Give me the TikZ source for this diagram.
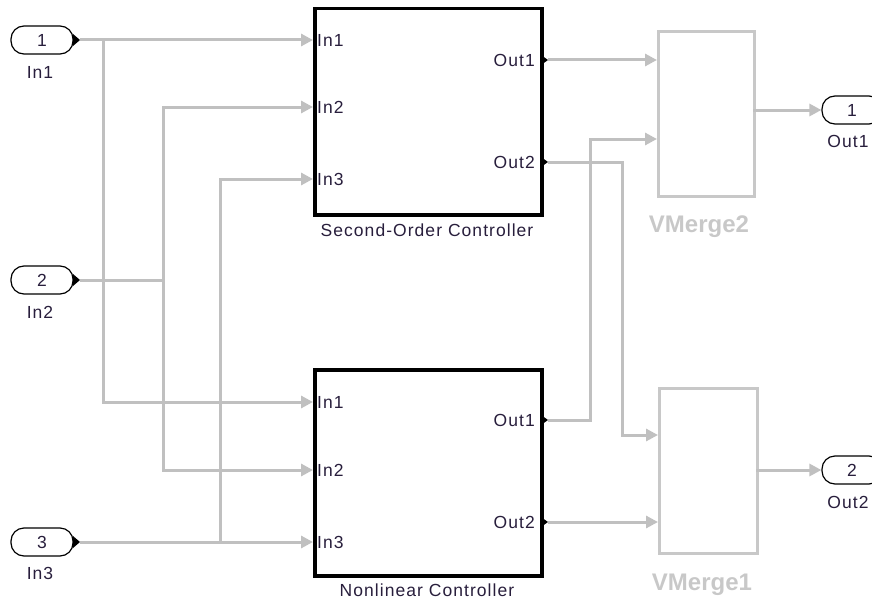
\documentclass[tikz,border=0pt]{standalone}
\usepackage{fontspec}
\setmainfont{Liberation Sans}
\newfontfamily\simfont{Liberation Sans}[LetterSpace=6.0]
\newfontfamily\mergefam{Liberation Sans}
\usetikzlibrary{arrows.meta}
\definecolor{wiregray}{RGB}{192,192,192}
\definecolor{mergegray}{RGB}{200,200,200}
\definecolor{txtdark}{RGB}{40,30,60}
\newcommand\lblfont{\simfont\fontsize{17.5}{19}\selectfont\color{txtdark}}
\newcommand\mergefont{\mergefam\bfseries\fontsize{24}{26}\selectfont\color{mergegray}}
\begin{document}
\begin{tikzpicture}[x=1pt,y=-1pt,
  wire/.style={draw=wiregray,line width=3pt},
  arr/.style={wire,-{Triangle[length=12pt,width=12pt]}},
  inport/.style={draw=black,line width=1.2pt,rounded corners=13pt,minimum width=62pt,minimum height=28pt,inner sep=0pt,font=\lblfont},
  outport/.style={draw=black,line width=1.2pt,rounded corners=13pt,minimum width=60pt,minimum height=28pt,inner sep=0pt,font=\lblfont},
  blk/.style={draw=black,line width=3.5pt,anchor=north west,minimum width=227pt,minimum height=206pt,inner sep=0pt},
  merge/.style={draw=mergegray,line width=3pt,anchor=north west,minimum height=165pt,inner sep=0pt},
  lbl/.style={font=\lblfont,inner sep=1pt},
  mlbl/.style={font=\mergefont,inner sep=1pt},
  tipblack/.style={fill=black}]
\useasboundingbox (0,0) rectangle (872,602);
\clip (0,0) rectangle (872,602);

% ---------- input ports ----------
\node[inport] (in1) at (42,40) {1};
\node[inport] (in2) at (42,280) {2};
\node[inport] (in3) at (42,542) {3};
\node[lbl] (in1l) at (40,72) {In1};
\node[lbl] (in2l) at (40,312) {In2};
\node[lbl] (in3l) at (40,573) {In3};
\foreach \n/\yy in {in1/40,in2/280,in3/542}{
  \fill[tipblack] (73,\yy-6) -- (80,\yy) -- (73,\yy+6) -- cycle;
  \coordinate (\n o) at (80,\yy);
}

% ---------- controllers ----------
\node[blk] (soc) at (313,7) {};
\node[blk,minimum height=206pt] (nc) at (313,368) {};
\node[lbl] (soct) at (427,230) {Second-Order Controller};
\node[lbl] (nct) at (427,590) {Nonlinear Controller};

\node[lbl,anchor=west] (socl1) at (316,40) {In1};
\node[lbl,anchor=west] (socl2) at (316,107) {In2};
\node[lbl,anchor=west] (socl3) at (316,179) {In3};
\node[lbl,anchor=east] (soclo1) at (536,60) {Out1};
\node[lbl,anchor=east] (soclo2) at (536,162) {Out2};
\node[lbl,anchor=west] (ncl1) at (316,402) {In1};
\node[lbl,anchor=west] (ncl2) at (316,470) {In2};
\node[lbl,anchor=west] (ncl3) at (316,542) {In3};
\node[lbl,anchor=east] (nclo1) at (536,420) {Out1};
\node[lbl,anchor=east] (nclo2) at (536,522) {Out2};

\coordinate (soci1) at (313,40);
\coordinate (soci2) at (313,107);
\coordinate (soci3) at (313,179);
\coordinate (nci1) at (313,402);
\coordinate (nci2) at (313,470);
\coordinate (nci3) at (313,542);
\foreach \n/\yy in {soco1/60,soco2/162,nco1/420,nco2/522}{
  \fill[tipblack] (541,\yy-5) -- (548,\yy) -- (541,\yy+5) -- cycle;
  \coordinate (\n) at (548,\yy);
}

% ---------- merges ----------
\node[merge,minimum width=96pt] (vm2) at (657,30) {};
\node[merge,minimum width=98pt] (vm1) at (658,387) {};
\node[mlbl] (vm2l) at (699,227) {VMerge2};
\node[mlbl] (vm1l) at (702,585) {VMerge1};
\coordinate (vm2i1) at (657,60);
\coordinate (vm2i2) at (657,139);
\coordinate (vm2o) at (753,110);
\coordinate (vm1i1) at (658,435);
\coordinate (vm1i2) at (658,522);
\coordinate (vm1o) at (756,470);

% ---------- output ports ----------
\node[outport] (out1) at (852,110) {1};
\node[outport] (out2) at (852,470) {2};
\node[lbl] (out1l) at (848,141) {Out1};
\node[lbl] (out2l) at (848,502) {Out2};

% ---------- wiring ----------
\coordinate (j1) at (103,40);
\coordinate (j2) at (163,280);
\coordinate (j3) at (220,542);
\coordinate (k1) at (622,435);
\coordinate (k2) at (590,139);
\draw[arr] (in1o) -- (soci1);
\draw[arr] (j1) |- (nci1);
\draw[wire] (in2o) -- (j2);
\draw[arr] (j2) |- (soci2);
\draw[arr] (j2) |- (nci2);
\draw[arr] (in3o) -- (nci3);
\draw[arr] (j3) |- (soci3);

\draw[arr] (soco1) -- (vm2i1);
\draw[arr] (soco2) -| (k1) -- (vm1i1);
\draw[arr] (nco1) -| (k2) -- (vm2i2);
\draw[arr] (nco2) -- (vm1i2);
\draw[arr] (vm2o) -- (out1.west);
\draw[arr] (vm1o) -- (out2.west);
\end{tikzpicture}
\end{document}
